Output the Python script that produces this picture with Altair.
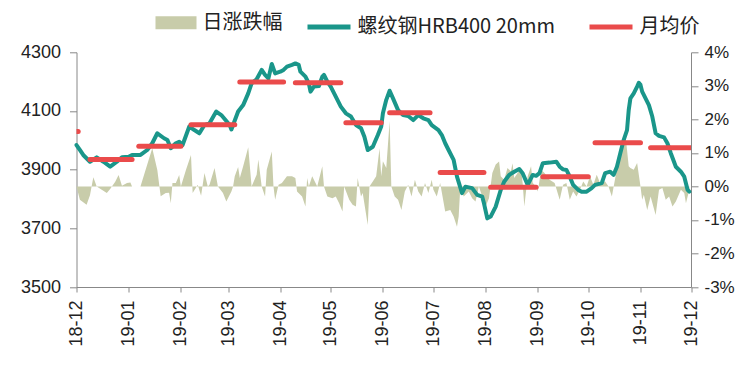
import altair as alt
import pandas as pd

# ---- data ----
price_dates = [
    "2018-12-01", "2018-12-03", "2018-12-05", "2018-12-09", "2018-12-13", "2018-12-17",
    "2018-12-21", "2018-12-25", "2018-12-28", "2019-01-01", "2019-01-03", "2019-01-08",
    "2019-01-12", "2019-01-15", "2019-01-18", "2019-01-22", "2019-01-24", "2019-01-26",
    "2019-01-29", "2019-01-31", "2019-02-02", "2019-02-06", "2019-02-09", "2019-02-12",
    "2019-02-15", "2019-02-18", "2019-02-22", "2019-02-25", "2019-03-02", "2019-03-03",
    "2019-03-07", "2019-03-10", "2019-03-13", "2019-03-15", "2019-03-18", "2019-03-21",
    "2019-03-23", "2019-03-25", "2019-03-27", "2019-03-29", "2019-04-01", "2019-04-03",
    "2019-04-05", "2019-04-08", "2019-04-10", "2019-04-12", "2019-04-13", "2019-04-16",
    "2019-04-18", "2019-04-19", "2019-04-21", "2019-04-24", "2019-04-26", "2019-04-27",
    "2019-04-29", "2019-05-01", "2019-05-04", "2019-05-07", "2019-05-10", "2019-05-13",
    "2019-05-16", "2019-05-19", "2019-05-21", "2019-05-23", "2019-05-26", "2019-05-29",
    "2019-05-31", "2019-06-01", "2019-06-03", "2019-06-05", "2019-06-07", "2019-06-10",
    "2019-06-13", "2019-06-16", "2019-06-19", "2019-06-22", "2019-06-25", "2019-06-28",
    "2019-06-30", "2019-07-04", "2019-07-06", "2019-07-08", "2019-07-10", "2019-07-13",
    "2019-07-15", "2019-07-18", "2019-07-20", "2019-07-24", "2019-07-27", "2019-07-30",
    "2019-07-31", "2019-08-02", "2019-08-04", "2019-08-07", "2019-08-10", "2019-08-12",
    "2019-08-15", "2019-08-18", "2019-08-21", "2019-08-23", "2019-08-26", "2019-08-29",
    "2019-08-31", "2019-09-02", "2019-09-04", "2019-09-08", "2019-09-12", "2019-09-14",
    "2019-09-16", "2019-09-18", "2019-09-20", "2019-09-22", "2019-09-25", "2019-09-27",
    "2019-09-30", "2019-10-03", "2019-10-05", "2019-10-09", "2019-10-11", "2019-10-14",
    "2019-10-16", "2019-10-18", "2019-10-20", "2019-10-22", "2019-10-24", "2019-10-25",
    "2019-10-26", "2019-10-28", "2019-10-30", "2019-10-31", "2019-11-01", "2019-11-02",
    "2019-11-04", "2019-11-06", "2019-11-08", "2019-11-10", "2019-11-12", "2019-11-15",
    "2019-11-17", "2019-11-19", "2019-11-22", "2019-11-25", "2019-11-27", "2019-11-29",
    "2019-11-30",
]
price_values = [
    3984, 3967, 3950, 3927, 3942, 3927,
    3910, 3927, 3942, 3944, 3950, 3950,
    3967, 3990, 4024, 4007, 4001, 3973,
    3990, 3995, 3984, 4047, 4035, 4024,
    4052, 4058, 4098, 4086, 4052, 4037,
    4098, 4120, 4160, 4194, 4208, 4240,
    4223, 4211, 4260, 4228, 4234, 4240,
    4251, 4257, 4262, 4257, 4234, 4217,
    4194, 4166, 4183, 4185, 4217, 4223,
    4200, 4183, 4149, 4115, 4092, 4081,
    4052, 4041, 4012, 3967, 3978, 4018,
    4047, 4092, 4138, 4169, 4143, 4103,
    4086, 4083, 4069, 4086, 4075, 4069,
    4052, 4035, 4018, 3990, 3967, 3933,
    3876, 3820, 3842, 3837, 3814, 3808,
    3786, 3734, 3740, 3774, 3831, 3859,
    3882, 3893, 3902, 3888, 3848, 3882,
    3879, 3888, 3922, 3924, 3927, 3910,
    3901, 3899, 3876, 3848, 3831, 3825,
    3825, 3837, 3848, 3854, 3888, 3893,
    3882, 3910, 3956, 4001, 4035, 4103,
    4143, 4160, 4183, 4196, 4189, 4166,
    4143, 4120, 4081, 4024, 4015, 4010,
    3990, 3956, 3910, 3893, 3876, 3831,
    3825,
]

change_dates = [
    "2018-12-01", "2018-12-03", "2018-12-07", "2018-12-09", "2018-12-11", "2018-12-13",
    "2018-12-16", "2018-12-19", "2018-12-21", "2018-12-24", "2018-12-26", "2018-12-28",
    "2018-12-31", "2019-01-02", "2019-01-03", "2019-01-08", "2019-01-15", "2019-01-18",
    "2019-01-20", "2019-01-23", "2019-01-25", "2019-01-26", "2019-01-27", "2019-01-29",
    "2019-01-31", "2019-02-01", "2019-02-04", "2019-02-07", "2019-02-08", "2019-02-11",
    "2019-02-13", "2019-02-15", "2019-02-17", "2019-02-18", "2019-02-21", "2019-02-23",
    "2019-02-26", "2019-02-28", "2019-03-03", "2019-03-04", "2019-03-05", "2019-03-07",
    "2019-03-08", "2019-03-10", "2019-03-13", "2019-03-15", "2019-03-18", "2019-03-19",
    "2019-03-21", "2019-03-23", "2019-03-24", "2019-03-27", "2019-03-28", "2019-03-29",
    "2019-03-31", "2019-04-02", "2019-04-05", "2019-04-08", "2019-04-10", "2019-04-11",
    "2019-04-14", "2019-04-16", "2019-04-17", "2019-04-18", "2019-04-20", "2019-04-23",
    "2019-04-26", "2019-04-27", "2019-04-29", "2019-05-02", "2019-05-04", "2019-05-06",
    "2019-05-08", "2019-05-09", "2019-05-12", "2019-05-14", "2019-05-16", "2019-05-17",
    "2019-05-19", "2019-05-20", "2019-05-23", "2019-05-24", "2019-05-26", "2019-05-28",
    "2019-05-30", "2019-05-31", "2019-06-01", "2019-06-03", "2019-06-05", "2019-06-06",
    "2019-06-08", "2019-06-10", "2019-06-12", "2019-06-14", "2019-06-16", "2019-06-18",
    "2019-06-20", "2019-06-22", "2019-06-24", "2019-06-26", "2019-06-28", "2019-06-30",
    "2019-07-01", "2019-07-03", "2019-07-05", "2019-07-08", "2019-07-11", "2019-07-13",
    "2019-07-15", "2019-07-16", "2019-07-17", "2019-07-19", "2019-07-22", "2019-07-24",
    "2019-07-26", "2019-07-28", "2019-07-30", "2019-08-01", "2019-08-03", "2019-08-05",
    "2019-08-07", "2019-08-09", "2019-08-10", "2019-08-12", "2019-08-14", "2019-08-16",
    "2019-08-17", "2019-08-18", "2019-08-20", "2019-08-22", "2019-08-23", "2019-08-24",
    "2019-08-26", "2019-08-28", "2019-08-29", "2019-08-31", "2019-09-01", "2019-09-03",
    "2019-09-05", "2019-09-08", "2019-09-11", "2019-09-14", "2019-09-16", "2019-09-18",
    "2019-09-20", "2019-09-22", "2019-09-24", "2019-09-26", "2019-09-28", "2019-09-30",
    "2019-10-02", "2019-10-04", "2019-10-06", "2019-10-08", "2019-10-09", "2019-10-11",
    "2019-10-13", "2019-10-15", "2019-10-17", "2019-10-19", "2019-10-21", "2019-10-23",
    "2019-10-25", "2019-10-26", "2019-10-28", "2019-10-30", "2019-11-01", "2019-11-02",
    "2019-11-03", "2019-11-05", "2019-11-07", "2019-11-10", "2019-11-12", "2019-11-14",
    "2019-11-16", "2019-11-18", "2019-11-20", "2019-11-22", "2019-11-25", "2019-11-27",
    "2019-11-28", "2019-11-30",
]
change_pct = [
    0.0, -0.4, -0.55, -0.26, 0.27, 0.0,
    -0.1, -0.2, -0.08, 0.14, 0.34, 0.02,
    0.1, 0.12, 0.0, 0.0, 1.14, 0.49,
    -0.29, -0.2, -0.19, -0.5, 0.1, 0.1,
    0.34, 0.0, 0.49, 0.94, -0.2, 0.05,
    -0.28, 0.4, 0.0, 0.05, 0.55, 0.0,
    -0.2, -0.45, -0.15, 0.0, 0.3, 0.58,
    0.25, 0.6, 1.17, 0.0, 0.35, 0.8,
    0.0, -0.3, 0.5, 1.04, 0.0, -0.4,
    0.05, 0.1, 0.3, 0.3, 0.25, -0.15,
    -0.3, -0.6, 0.25, 0.0, 0.3, 0.0,
    0.6, 0.0, -0.3, -0.35, -0.3, -0.5,
    -0.75, 0.0, -0.4, -0.55, -0.6, 0.25,
    -0.3, -0.2, -1.15, 0.0, 0.15, 0.3,
    1.14, 0.3, 0.75, 0.55, 1.95, 0.0,
    -0.3, -0.4, -0.7, -0.15, 0.05, -0.3,
    0.2, -0.15, -0.3, 0.1, -0.2, 0.2,
    -0.1, -0.3, 0.1, -0.75, -0.7, -0.9,
    -1.2, -0.9, 0.0, -0.3, -0.15, -0.35,
    -0.45, 0.0, -0.3, -0.6, -0.35, 0.4,
    0.65, 0.74, 0.3, 0.2, 0.55, 0.45,
    0.69, 0.25, 0.4, 0.55, 0.1, -0.6,
    0.3, 0.6, 0.1, 0.0, -0.15, 0.5,
    0.4, 0.2, 0.1, -0.4, 0.05, 0.1,
    -0.4, -0.15, -0.3, -0.1, 0.15, 0.0,
    0.3, 0.05, 0.35, 0.1, 0.15, 0.15,
    0.0, -0.3, 0.25, 0.88, 1.33, 1.58,
    0.6, 0.55, 0.5, 0.7, 0.0, -0.4,
    -0.25, -0.7, -0.3, -0.85, -0.1, -0.05,
    -0.4, -0.3, -0.6, -0.45, -0.1, -0.2,
    -0.5, -0.1,
]

avg_start = ["2018-11-20", "2018-12-09", "2019-01-07", "2019-02-07", "2019-03-08", "2019-04-10",
             "2019-05-10", "2019-06-05", "2019-07-05", "2019-08-04", "2019-09-04", "2019-10-05",
             "2019-11-07"]
avg_end = ["2018-12-02", "2019-01-03", "2019-02-01", "2019-03-05", "2019-04-03", "2019-05-07",
           "2019-05-31", "2019-06-29", "2019-07-31", "2019-08-31", "2019-10-01", "2019-11-01",
           "2019-12-05"]
avg_values = [4030, 3935, 3980, 4053, 4199, 4196, 4060, 4094, 3890, 3840, 3876, 3992, 3975]

series_names = ["日涨跌幅", "螺纹钢HRB400 20mm", "月均价"]
month_ticks = ["2018-12", "2019-01", "2019-02", "2019-03", "2019-04", "2019-05", "2019-06",
               "2019-07", "2019-08", "2019-09", "2019-10", "2019-11", "2019-12"]
left_ticks = [3500, 3700, 3900, 4100, 4300]
right_ticks = [-3, -2, -1, 0, 1, 2, 3, 4]

OLIVE = "#c8ccaa"
TEAL = "#1a968a"
RED = "#ea4b4b"
LABEL_FONT = "Liberation Sans"
CJK_FONT = "Noto Sans CJK SC"

df_price = pd.DataFrame({"date": price_dates, "price": price_values, "name": series_names[1]})
df_chg = pd.DataFrame({"date": change_dates, "chg": change_pct, "name": series_names[0]})
df_avg = pd.DataFrame({"start": avg_start, "end": avg_end, "avg": avg_values, "name": series_names[2]})


def dt(s):
    y, m = s.split("-")
    return alt.DateTime(year=int(y), month=int(m), date=1, utc=True)


x_scale = alt.Scale(type="utc", domain=[dt(month_ticks[0]), dt(month_ticks[-1])], nice=False)
x_axis = alt.Axis(
    title=None, values=[dt(m) for m in month_ticks],
    labelExpr="utcFormat(datum.value, '%y-%m')",
    labelAngle=270, labelFont=LABEL_FONT, labelFontSize=18, labelColor="#222",
    labelPadding=8, tickSize=5, tickColor="#888", domainColor="#888", labelOverlap=False,
    grid=False,
)

yl_scale = alt.Scale(domain=[3500, 4300], nice=False, zero=False)
yl_axis = alt.Axis(
    title=None, orient="left", values=left_ticks, format="d", labelFont=LABEL_FONT,
    labelFontSize=18, labelColor="#222", labelPadding=9, tickSize=7, tickColor="#888",
    domainColor="#888", grid=False,
)
yr_scale = alt.Scale(domain=[-3, 4], nice=False, zero=False)
yr_axis = alt.Axis(
    title=None, orient="right", values=right_ticks, labelExpr="datum.value + '%'",
    labelFont=LABEL_FONT, labelFontSize=17, labelColor="#222", labelPadding=6, tickSize=7,
    tickColor="#888", domainColor="#888", grid=False,
)

fill_legend = alt.Legend(
    title=None, orient="none", legendX=79, legendY=-50, direction="horizontal",
    symbolType="M-1,-0.32H1V0.32H-1Z", symbolSize=1681, symbolStrokeWidth=0,
    symbolOpacity=1, labelFont=CJK_FONT, labelFontSize=20, labelColor="#222",
    labelOffset=6, labelLimit=400, padding=0,
)
stroke_legend = alt.Legend(
    title=None, orient="none", legendX=228, legendY=-50, direction="horizontal",
    symbolType="stroke", symbolSize=1850, symbolStrokeWidth=5, labelFont=CJK_FONT,
    labelFontSize=20, labelColor="#222", labelOffset=4, labelLimit=400, columnPadding=23,
    padding=0,
)
stroke_scale = alt.Scale(domain=series_names[1:], range=[TEAL, RED])

area = alt.Chart(df_chg).mark_area(interpolate="linear", opacity=1).encode(
    x=alt.X("date:T", scale=x_scale, axis=x_axis),
    y=alt.Y("chg:Q", scale=yr_scale, axis=yr_axis),
    y2=alt.datum(0),
    fill=alt.Fill("name:N", scale=alt.Scale(domain=series_names[:1], range=[OLIVE]),
                  legend=fill_legend),
)

line = alt.Chart(df_price).mark_line(strokeWidth=4, strokeJoin="round", strokeCap="round").encode(
    x=alt.X("date:T", scale=x_scale, axis=x_axis),
    y=alt.Y("price:Q", scale=yl_scale, axis=yl_axis),
    stroke=alt.Stroke("name:N", scale=stroke_scale, legend=stroke_legend),
)

rule = alt.Chart(df_avg).mark_rule(strokeWidth=5, strokeCap="round", clip=True).encode(
    x=alt.X("start:T", scale=x_scale, axis=x_axis),
    x2="end:T",
    y=alt.Y("avg:Q", scale=yl_scale, axis=yl_axis),
    stroke=alt.Stroke("name:N", scale=stroke_scale, legend=stroke_legend),
)

chart = alt.layer(area, alt.layer(line, rule)).resolve_scale(y="independent").properties(
    width=614.5,
    height=234.7,
    autosize=alt.AutoSizeParams(type="none"),
    padding={"left": 68.5, "top": 44.3, "right": 45, "bottom": 70},
    title=alt.TitleParams(
        "单位：元/吨", anchor="start", frame="group", font=CJK_FONT, fontSize=20,
        fontWeight="bold", color="#222", dx=-67.5, offset=10,
    ),
).configure_view(stroke=None)

chart.save("out.html", embed_options={"renderer": "svg", "actions": False})
